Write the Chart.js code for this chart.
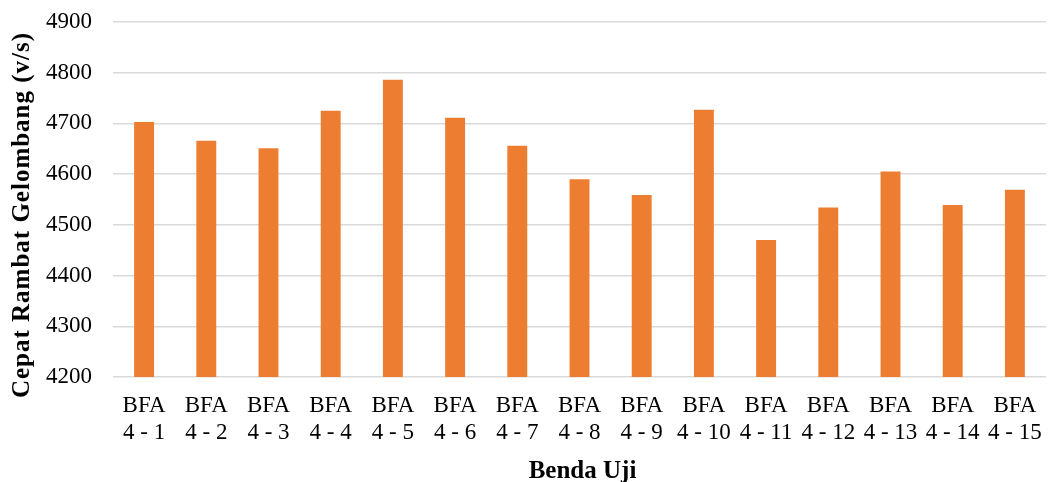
<!DOCTYPE html>
<html>
<head>
<meta charset="utf-8">
<script src="https://cdn.jsdelivr.net/npm/chart.js@4/dist/chart.umd.min.js"></script>
<style>
  html, body { margin: 0; padding: 0; background: #ffffff; }
  #wrap { position: relative; width: 1048px; height: 482px; }
</style>
</head>
<body>
<div id="wrap"><canvas id="chart"></canvas></div>
<script>
// Specimen names (two-line labels) and measured wave velocities
const specimens = [
  ['BFA', '4 - 1'], ['BFA', '4 - 2'], ['BFA', '4 - 3'], ['BFA', '4 - 4'], ['BFA', '4 - 5'],
  ['BFA', '4 - 6'], ['BFA', '4 - 7'], ['BFA', '4 - 8'], ['BFA', '4 - 9'], ['BFA', '4 - 10'],
  ['BFA', '4 - 11'], ['BFA', '4 - 12'], ['BFA', '4 - 13'], ['BFA', '4 - 14'], ['BFA', '4 - 15']
];
const velocities = [4703, 4666, 4651, 4725, 4786, 4711, 4656, 4590, 4559, 4727, 4470, 4534, 4605, 4539, 4569];

const yMin = 4200;
const yMax = 4900;
const yStep = 100;

const xTitle = 'Benda Uji';
const yTitle = 'Cepat Rambat Gelombang (v/s)';

const serif = "'Liberation Serif', 'Times New Roman', serif";

// Axis titles drawn by hand so their placement can be tuned freely
const axisTitles = {
  id: 'axisTitles',
  afterDraw(chart) {
    const { ctx, chartArea } = chart;
    ctx.save();
    ctx.fillStyle = '#000000';
    ctx.font = 'bold 25px ' + serif;
    ctx.textAlign = 'center';
    ctx.textBaseline = 'alphabetic';

    // horizontal axis title
    ctx.fillText(xTitle, (chartArea.left + chartArea.right) / 2 + 3, 478);

    // vertical axis title, reading bottom to top
    ctx.translate(29, 215);
    ctx.rotate(-Math.PI / 2);
    ctx.letterSpacing = '1px';
    ctx.fillText(yTitle, 0, 0);
    ctx.restore();
  }
};

new Chart(document.getElementById('chart'), {
  type: 'bar',
  data: {
    labels: specimens,
    datasets: [{
      data: velocities,
      backgroundColor: '#ED7D31',
      borderWidth: 0,
      categoryPercentage: 1.0,
      barPercentage: 0.32
    }]
  },
  options: {
    responsive: true,
    maintainAspectRatio: false,
    animation: false,
    devicePixelRatio: 1,
    layout: { padding: { top: 22, right: 2, bottom: 0, left: 0 } },
    plugins: {
      legend: { display: false },
      tooltip: { enabled: false }
    },
    scales: {
      x: {
        grid: {
          display: true,
          drawOnChartArea: false,
          color: 'rgba(0,0,0,0)',
          drawTicks: true,
          tickLength: 15,
          tickColor: 'rgba(0,0,0,0)'
        },
        border: { display: false },
        ticks: {
          color: '#000000',
          font: { family: serif, size: 23, lineHeight: 1.2 },
          padding: 0,
          maxRotation: 0,
          minRotation: 0,
          autoSkip: false
        },
        afterFit: (scale) => { scale.height = 105; }
      },
      y: {
        min: yMin,
        max: yMax,
        grid: {
          color: '#d9d9d9',
          lineWidth: 1.5,
          drawTicks: true,
          tickLength: 21,
          tickColor: 'rgba(0,0,0,0)'
        },
        border: { display: false },
        ticks: {
          stepSize: yStep,
          color: '#000000',
          font: { family: serif, size: 23 },
          padding: 0,
          callback: (v) => String(v)
        },
        afterFit: (scale) => { scale.width = 113; }
      }
    }
  },
  plugins: [axisTitles]
});
</script>
</body>
</html>
